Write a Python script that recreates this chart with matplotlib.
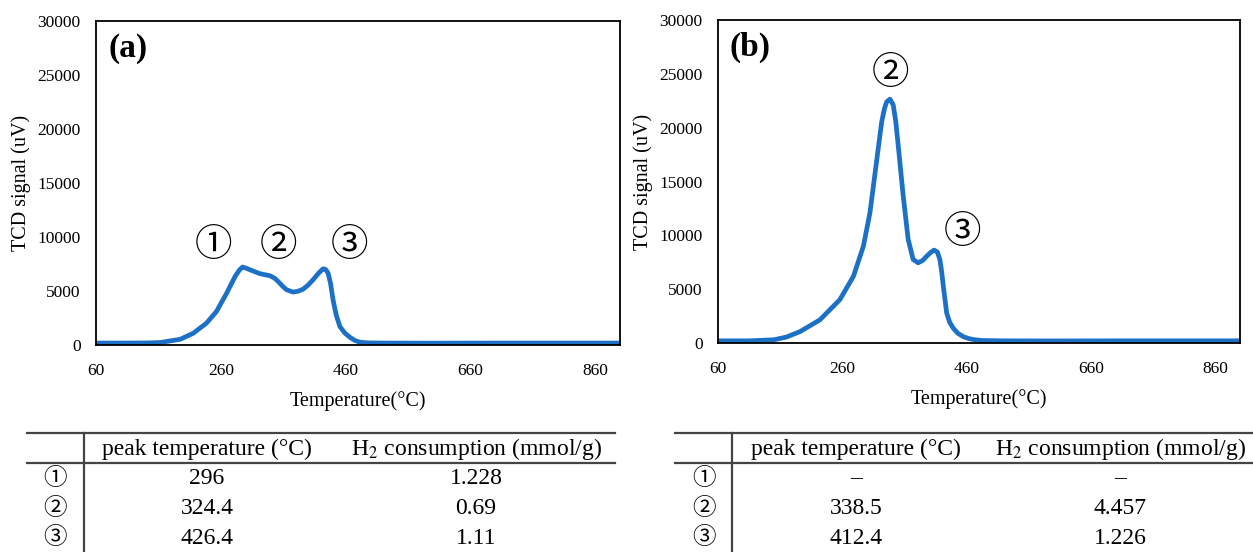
import matplotlib.pyplot as plt
from matplotlib.lines import Line2D

plt.rcParams['font.family'] = ['Liberation Serif', 'Noto Sans CJK JP', 'DejaVu Sans']
plt.rcParams['mathtext.fontset'] = 'stix'

# TPR curve (a)
temp_a = [60, 100, 140, 163, 195, 216, 237, 253, 269.5, 283, 290, 295, 302, 309.6, 323, 339, 346,
          352, 359, 365.6, 376, 384, 392, 400, 408, 416, 424, 428, 432, 436, 440, 445, 451, 459,
          467, 475, 483, 495, 520, 600, 700, 800, 900]
signal_a = [180, 180, 190, 230, 530, 1090, 2020, 3090, 4800, 6350, 6950, 7220, 7080, 6900, 6600, 6410, 6200,
            5880, 5450, 5110, 4900, 4980, 5170, 5550, 6040, 6600, 7060, 7000, 6660, 5700, 4180, 2800, 1700, 1100,
            715, 420, 260, 200, 180, 170, 180, 180, 180]

# TPR curve (b)
temp_b = [60, 110, 150, 170, 192, 224, 256, 278, 294, 304.6, 315, 323.4, 328, 331.5, 336.8, 342, 346,
          350, 358, 366, 374, 382, 389, 396, 402, 407.6, 413, 417, 420, 422.6, 428, 433, 438.7, 446,
          454.8, 463, 471, 485, 520, 600, 700, 800, 900]
signal_b = [200, 200, 300, 550, 1060, 2150, 4020, 6200, 9000, 12130, 16800, 20540, 21800, 22410, 22650, 22100, 20600,
            18350, 13680, 9630, 7760, 7450, 7650, 8070, 8400, 8630, 8450, 7760, 6600, 5260, 2780, 1900, 1370, 900,
            590, 420, 320, 230, 200, 190, 200, 200, 200]

# peak markers
marks_a = ['①', '②', '③']
mark_x_a = [248, 353, 466]
mark_y_a = [9200, 9200, 9200]
marks_b = ['②', '③']
mark_x_b = [337, 453]
mark_y_b = [25000, 10300]

# tables
row_labels = ['①', '②', '③']
col_labels = ['peak temperature (°C)', r'H$_2$ consumption (mmol/g)']
peak_temp_a = ['296', '324.4', '426.4']
h2_a = ['1.228', '0.69', '1.11']
peak_temp_b = ['–', '338.5', '412.4']
h2_b = ['–', '4.457', '1.226']

W, H = 1253, 552
fig = plt.figure(figsize=(W / 100, H / 100), dpi=100)
blue = '#1c70c6'


def panel(rect, x, y, tag, marks, mx, my):
    ax = fig.add_axes(rect)
    ax.plot(x, y, color=blue, lw=3.4, solid_joinstyle='round', solid_capstyle='butt')
    ax.set_xlim(60, 900)
    ax.set_ylim(0, 30000)
    ax.set_xticks([60, 260, 460, 660, 860])
    ax.set_yticks(range(0, 30001, 5000))
    ax.tick_params(axis='x', length=0, labelsize=12.5, pad=13)
    ax.tick_params(axis='y', length=0, labelsize=12.5, pad=11)
    for s in ax.spines.values():
        s.set_linewidth(1.3)
    ax.set_xlabel('Temperature(°C)', fontsize=14.5, labelpad=9)
    ax.set_ylabel('TCD signal (uV)', fontsize=14.5, labelpad=5)
    ax.text(0.062, 0.915, tag, transform=ax.transAxes, fontsize=24, fontweight='bold',
            ha='center', va='center')
    for m, a, b in zip(marks, mx, my):
        ax.text(a, b, m, fontsize=27, ha='center', va='center',
                family=['Noto Sans CJK JP', 'DejaVu Sans'])
    return ax


panel([96 / W, 1 - 345 / H, 524 / W, 324 / H], temp_a, signal_a, '(a)', marks_a, mark_x_a, mark_y_a)
panel([718 / W, 1 - 343 / H, 522 / W, 323 / H], temp_b, signal_b, '(b)', marks_b, mark_x_b, mark_y_b)


def px(x, y):
    return x / W, 1 - y / H


def table(x0, x1, xv, xl, xc1, xc2, col1, col2):
    lines = [((x0, x1), (433, 433)), ((x0, x1), (463, 463)), ((xv, xv), (433, 552))]
    for xs, ys in lines:
        fig.add_artist(Line2D([x / W for x in xs], [1 - y / H for y in ys],
                              color='#444444', lw=1.6))
    for c, lab in zip([xc1, xc2], col_labels):
        fig.text(*px(c, 449), lab, fontsize=17, ha='center', va='center')
    for i, ry in enumerate([479, 509, 538]):
        fig.text(*px(xl, ry), row_labels[i], fontsize=17, ha='center', va='center')
        fig.text(*px(xc1, ry), col1[i], fontsize=17, ha='center', va='center')
        fig.text(*px(xc2, ry), col2[i], fontsize=17, ha='center', va='center')


table(27, 615, 84, 55, 207, 476, peak_temp_a, h2_a)
table(675, 1253, 732, 704, 856, 1120, peak_temp_b, h2_b)

fig.savefig('out.png', dpi=100)
